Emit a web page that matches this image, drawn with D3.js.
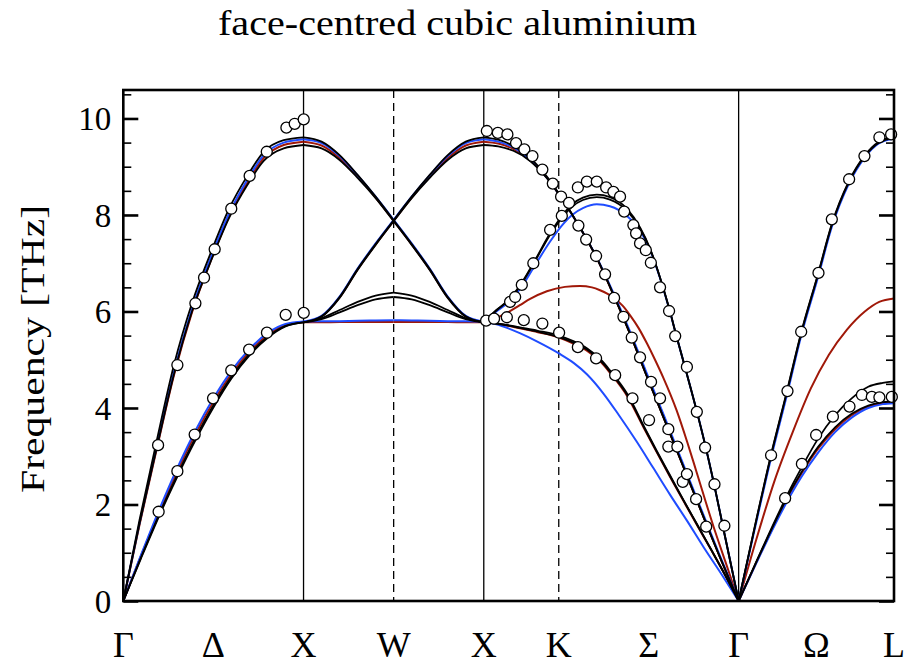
<!DOCTYPE html>
<html>
<head>
<meta charset="utf-8">
<script src="https://cdn.jsdelivr.net/npm/d3@7"></script>
<style>
  body { margin: 0; background: #fff; }
  svg { display: block; }
</style>
</head>
<body>
<svg id="chart" width="907" height="667"></svg>
<script>
// ---- High-symmetry path (cumulative wave-vector distance, units of 2π/a) ----
const pathLabels   = ["Γ", "Δ", "X", "W", "X", "K", "Σ", "Γ", "Ω", "L"];
const pathLabelPos = [0, 0.5, 1, 1.5, 2, 2.416, 2.915, 3.414, 3.845, 4.276];
const solidLines   = [1, 2, 3.414];
const dashedLines  = [1.5, 2.416];
const yMajorTicks  = [0, 2, 4, 6, 8, 10];
const yMinorTicks  = [0.5, 1, 1.5, 2.5, 3, 3.5, 4.5, 5, 5.5, 6.5, 7, 7.5, 8.5, 9, 9.5, 10.5];

// ---- Model A (black) branches: [q, frequency THz] ----
const blackA_GX_L  = [[0,0],[0.09,1.68],[0.18,3.23],[0.281,4.89],[0.381,6.17],[0.494,7.3],[0.587,8.13],[0.688,8.81],[0.779,9.31],[0.89,9.55],[1,9.61]];
const blackA_GX_T  = [[0,0],[0.1,0.92],[0.2,1.8],[0.3,2.62],[0.4,3.38],[0.5,4.06],[0.6,4.65],[0.7,5.12],[0.8,5.47],[0.9,5.7],[1,5.775]];
const blackA_XW_1  = [[1,9.61],[1.1,9.52],[1.2,9.24],[1.3,8.83],[1.4,8.38],[1.5,7.89]];
const blackA_XW_2  = [[1,5.775],[1.1,5.9],[1.2,6.3],[1.3,6.88],[1.4,7.4],[1.5,7.89]];
const blackA_XW_3  = [[1,5.775],[1.1,5.86],[1.2,6.03],[1.3,6.2],[1.4,6.33],[1.5,6.39]];
const blackA_WX_1  = [[1.5,7.89],[1.6,8.38],[1.7,8.83],[1.8,9.24],[1.9,9.52],[2,9.61]];
const blackA_WX_2  = [[1.5,7.89],[1.6,7.4],[1.7,6.88],[1.8,6.3],[1.9,5.9],[2,5.775]];
const blackA_WX_3  = [[1.5,6.39],[1.6,6.33],[1.7,6.2],[1.8,6.03],[1.9,5.86],[2,5.775]];
const blackA_XG_1  = [[2,9.61],[2.08,9.56],[2.164,9.43],[2.257,9.18],[2.349,8.8],[2.44,8.31],[2.532,7.75],[2.624,7.13],[2.717,6.37],[2.81,5.55],[2.9,4.7],[3,3.78],[3.1,2.85],[3.2,1.92],[3.3,1],[3.414,0]];
const blackA_XG_2  = [[2,5.775],[2.07,6.03],[2.146,6.27],[2.211,6.6],[2.275,7],[2.368,7.62],[2.433,7.98],[2.49,8.22],[2.55,8.36],[2.627,8.42],[2.7,8.37],[2.794,8.13],[2.867,7.74],[2.923,7.3],[2.978,6.7],[3.028,6.07],[3.067,5.52],[3.127,4.7],[3.182,3.93],[3.228,3.24],[3.28,2.38],[3.335,1.4],[3.414,0]];
const blackA_XG_3  = [[2,5.775],[2.1,5.74],[2.2,5.67],[2.3,5.6],[2.417,5.5],[2.5,5.38],[2.572,5.24],[2.65,5.0],[2.7,4.78],[2.8,4.27],[2.886,3.64],[2.96,3.11],[3.034,2.6],[3.11,2.08],[3.182,1.6],[3.26,1.08],[3.33,0.6],[3.414,0]];
const blackA_GL_L  = [[3.414,0],[3.504,1.55],[3.593,3.02],[3.684,4.38],[3.76,5.55],[3.856,6.8],[3.93,7.8],[4.026,8.7],[4.111,9.22],[4.194,9.52],[4.276,9.62]];
const blackA_GL_T  = [[3.414,0],[3.514,0.83],[3.614,1.65],[3.714,2.42],[3.764,2.77],[3.856,3.37],[3.949,3.85],[4.041,4.2],[4.133,4.44],[4.214,4.52],[4.276,4.55]];

// ---- Model B (black) branches ----
const blackB_GX_L  = [[0,0],[0.09,1.6],[0.18,3.08],[0.281,4.7],[0.381,6],[0.494,7.12],[0.587,7.94],[0.688,8.62],[0.779,9.12],[0.89,9.38],[1,9.45]];
const blackB_GX_T  = [[0,0],[0.1,0.9],[0.2,1.77],[0.3,2.58],[0.4,3.33],[0.5,4.01],[0.6,4.61],[0.7,5.09],[0.8,5.45],[0.9,5.69],[1,5.775]];
const blackB_XW_1  = [[1,9.45],[1.1,9.38],[1.2,9.14],[1.3,8.77],[1.4,8.35],[1.5,7.87]];
const blackB_XW_2  = [[1,5.775],[1.1,5.89],[1.2,6.28],[1.3,6.86],[1.4,7.38],[1.5,7.87]];
const blackB_XW_3  = [[1,5.775],[1.1,5.84],[1.2,5.98],[1.3,6.13],[1.4,6.25],[1.5,6.3]];
const blackB_WX_1  = [[1.5,7.87],[1.6,8.35],[1.7,8.77],[1.8,9.14],[1.9,9.38],[2,9.45]];
const blackB_WX_2  = [[1.5,7.87],[1.6,7.38],[1.7,6.86],[1.8,6.28],[1.9,5.89],[2,5.775]];
const blackB_WX_3  = [[1.5,6.3],[1.6,6.25],[1.7,6.13],[1.8,5.98],[1.9,5.84],[2,5.775]];
const blackB_XG_1  = [[2,9.45],[2.08,9.42],[2.164,9.33],[2.257,9.12],[2.349,8.77],[2.44,8.3],[2.532,7.75],[2.624,7.13],[2.717,6.37],[2.81,5.55],[2.9,4.7],[3,3.78],[3.1,2.85],[3.2,1.92],[3.3,1],[3.414,0]];
const blackB_XG_2  = [[2,5.775],[2.07,6.02],[2.146,6.26],[2.211,6.58],[2.275,6.98],[2.368,7.59],[2.433,7.94],[2.49,8.17],[2.55,8.31],[2.627,8.37],[2.7,8.32],[2.794,8.09],[2.867,7.72],[2.923,7.29],[2.978,6.7],[3.028,6.07],[3.067,5.52],[3.127,4.7],[3.182,3.93],[3.228,3.24],[3.28,2.38],[3.335,1.4],[3.414,0]];
const blackB_XG_3  = [[2,5.775],[2.1,5.73],[2.2,5.66],[2.3,5.58],[2.417,5.47],[2.5,5.35],[2.572,5.21],[2.65,4.97],[2.7,4.75],[2.8,4.24],[2.886,3.62],[2.96,3.09],[3.034,2.58],[3.11,2.07],[3.182,1.59],[3.26,1.07],[3.33,0.6],[3.414,0]];
const blackB_GL_L  = [[3.414,0],[3.504,1.54],[3.593,3.0],[3.684,4.36],[3.76,5.53],[3.856,6.78],[3.93,7.78],[4.026,8.68],[4.111,9.2],[4.194,9.5],[4.276,9.6]];
const blackB_GL_T  = [[3.414,0],[3.514,0.82],[3.614,1.62],[3.714,2.36],[3.764,2.68],[3.856,3.2],[3.949,3.6],[4.041,3.88],[4.133,4.05],[4.214,4.12],[4.276,4.14]];

// ---- Model C (red) branches ----
const red_GX_L  = [[0,0],[0.09,1.58],[0.18,3.06],[0.281,4.68],[0.381,5.98],[0.494,7.13],[0.587,7.97],[0.688,8.67],[0.779,9.18],[0.89,9.45],[1,9.52]];
const red_GX_T  = [[0,0],[0.1,0.95],[0.2,1.85],[0.3,2.7],[0.4,3.46],[0.5,4.13],[0.6,4.71],[0.7,5.17],[0.8,5.51],[0.9,5.72],[1,5.78]];
const red_XW_1  = [[1,9.52],[1.1,9.44],[1.2,9.18],[1.3,8.8],[1.4,8.36],[1.5,7.88]];
const red_XW_2  = [[1,5.78],[1.1,5.9],[1.2,6.29],[1.3,6.87],[1.4,7.39],[1.5,7.88]];
const red_XW_3  = [[1,5.775],[1.1,5.775],[1.2,5.78],[1.3,5.78],[1.4,5.78],[1.5,5.78]];
const red_WX_1  = [[1.5,7.88],[1.6,8.36],[1.7,8.8],[1.8,9.18],[1.9,9.44],[2,9.52]];
const red_WX_2  = [[1.5,7.88],[1.6,7.39],[1.7,6.87],[1.8,6.29],[1.9,5.9],[2,5.78]];
const red_WX_3  = [[1.5,5.78],[1.6,5.78],[1.7,5.78],[1.8,5.78],[1.9,5.775],[2,5.775]];
const red_XG_1  = [[2,9.52],[2.08,9.48],[2.164,9.37],[2.257,9.14],[2.349,8.78],[2.44,8.3],[2.532,7.75],[2.624,7.13],[2.717,6.37],[2.81,5.55],[2.9,4.7],[3,3.78],[3.1,2.85],[3.2,1.92],[3.3,1],[3.414,0]];
const red_XG_2  = [[2,5.775],[2.06,5.85],[2.128,5.97],[2.2,6.13],[2.257,6.26],[2.35,6.42],[2.45,6.51],[2.534,6.53],[2.6,6.5],[2.645,6.44],[2.719,6.29],[2.77,6.12],[2.812,5.92],[2.86,5.65],[2.905,5.34],[2.95,5],[2.997,4.62],[3.07,3.95],[3.13,3.28],[3.18,2.68],[3.274,1.55],[3.34,0.82],[3.414,0]];
const red_XG_3  = [[2,5.775],[2.1,5.73],[2.2,5.65],[2.3,5.57],[2.417,5.46],[2.5,5.33],[2.572,5.19],[2.65,4.95],[2.7,4.73],[2.8,4.22],[2.886,3.6],[2.96,3.08],[3.034,2.57],[3.11,2.06],[3.182,1.58],[3.26,1.07],[3.33,0.6],[3.414,0]];
const red_GL_L  = [[3.414,0],[3.514,1.3],[3.614,2.5],[3.714,3.5],[3.814,4.4],[3.914,5.1],[4.014,5.62],[4.114,6],[4.194,6.2],[4.276,6.27]];
const red_GL_T  = [[3.414,0],[3.514,0.81],[3.614,1.6],[3.714,2.33],[3.764,2.65],[3.856,3.16],[3.949,3.56],[4.041,3.85],[4.133,4.03],[4.214,4.1],[4.276,4.12]];

// ---- Model D (blue) branches ----
const blue_GX_L  = [[0,0],[0.09,1.62],[0.18,3.12],[0.281,4.75],[0.381,6.05],[0.494,7.2],[0.587,8.03],[0.688,8.73],[0.779,9.24],[0.89,9.5],[1,9.57]];
const blue_GX_T  = [[0,0],[0.1,0.97],[0.2,1.9],[0.3,2.76],[0.4,3.53],[0.5,4.2],[0.6,4.77],[0.7,5.22],[0.8,5.55],[0.9,5.74],[1,5.79]];
const blue_XW_1  = [[1,9.57],[1.1,9.49],[1.2,9.22],[1.3,8.82],[1.4,8.38],[1.5,7.9]];
const blue_XW_2  = [[1,5.79],[1.1,5.91],[1.2,6.31],[1.3,6.89],[1.4,7.41],[1.5,7.9]];
const blue_XW_3  = [[1,5.79],[1.1,5.795],[1.2,5.8],[1.3,5.81],[1.4,5.815],[1.5,5.82]];
const blue_WX_1  = [[1.5,7.9],[1.6,8.38],[1.7,8.82],[1.8,9.22],[1.9,9.49],[2,9.57]];
const blue_WX_2  = [[1.5,7.9],[1.6,7.41],[1.7,6.89],[1.8,6.31],[1.9,5.91],[2,5.79]];
const blue_WX_3  = [[1.5,5.82],[1.6,5.815],[1.7,5.81],[1.8,5.8],[1.9,5.795],[2,5.79]];
const blue_XG_1  = [[2,9.57],[2.08,9.52],[2.164,9.4],[2.257,9.15],[2.349,8.78],[2.44,8.3],[2.532,7.75],[2.624,7.14],[2.717,6.4],[2.81,5.6],[2.9,4.76],[3,3.84],[3.1,2.9],[3.2,1.96],[3.3,1.03],[3.414,0]];
const blue_XG_2  = [[2,5.79],[2.07,6.0],[2.146,6.22],[2.211,6.52],[2.275,6.9],[2.368,7.45],[2.433,7.78],[2.49,8],[2.55,8.14],[2.627,8.22],[2.7,8.18],[2.794,7.98],[2.867,7.68],[2.923,7.27],[2.978,6.69],[3.028,6.06],[3.067,5.52],[3.127,4.7],[3.182,3.93],[3.228,3.24],[3.28,2.38],[3.335,1.4],[3.414,0]];
const blue_XG_3  = [[2,5.79],[2.1,5.7],[2.2,5.55],[2.3,5.37],[2.417,5.13],[2.5,4.93],[2.572,4.7],[2.664,4.3],[2.75,3.85],[2.849,3.3],[2.94,2.76],[3.034,2.2],[3.13,1.65],[3.219,1.12],[3.32,0.55],[3.414,0]];
const blue_GL_L  = [[3.414,0],[3.504,1.5],[3.593,2.95],[3.684,4.3],[3.76,5.48],[3.856,6.73],[3.93,7.74],[4.026,8.65],[4.111,9.18],[4.194,9.49],[4.276,9.58]];
const blue_GL_T  = [[3.414,0],[3.514,0.8],[3.614,1.57],[3.714,2.27],[3.764,2.58],[3.856,3.08],[3.949,3.5],[4.041,3.8],[4.133,4],[4.214,4.08],[4.276,4.1]];

// ---- Measured frequencies (open circles) ----
const measuredQ = [
  0.193, 0.300, 0.400, 0.448, 0.507, 0.599, 0.701, 0.796, 0.905, 0.951, 1.001,
  0.196, 0.300, 0.396, 0.498, 0.599, 0.698, 0.797, 0.901, 1.001,
  2.017, 2.078, 2.131, 2.179, 2.225, 2.270, 2.325, 2.383, 2.429, 2.473, 2.525, 2.568, 2.623, 2.673, 2.723, 2.775, 2.821, 2.867, 2.928, 2.978,
  3.024, 3.024, 3.074, 3.104, 3.127, 3.178, 3.234,
  2.013, 2.057, 2.128, 2.146, 2.174, 2.211, 2.275, 2.368, 2.433, 2.522, 2.572, 2.627, 2.679, 2.719, 2.756, 2.779, 2.830, 2.845, 2.867, 2.899, 2.927, 2.978, 3.028, 3.062, 3.127,
  3.182, 3.228, 3.280, 3.335,
  2.222, 2.325, 2.418, 2.522, 2.623, 2.729, 2.825, 2.917,
  3.594, 3.685, 3.761, 3.857, 3.931, 4.027, 4.112, 4.195, 4.260,
  3.672, 3.765, 3.844, 3.937, 4.029, 4.098, 4.153, 4.195, 4.264
];
const measuredF = [
  3.23, 4.89, 6.17, 6.70, 7.29, 8.13, 8.81, 9.31, 9.81, 9.89, 9.98,
  1.85, 2.69, 3.45, 4.20, 4.78, 5.21, 5.56, 5.93, 5.97,
  9.74, 9.70, 9.67, 9.49, 9.36, 9.22, 8.94, 8.65, 8.38, 8.25, 7.78, 7.49, 7.15, 6.77, 6.28, 5.89, 5.46, 5.05, 4.54, 4.20,
  3.56, 3.20, 3.20, 2.47, 2.63, 2.11, 1.54,
  5.81, 5.85, 5.88, 6.20, 6.30, 6.55, 7.00, 7.69, 7.98, 8.57, 8.69, 8.69, 8.57, 8.48, 8.38, 8.07, 7.79, 7.62, 7.41, 7.27, 7.01, 6.50, 6.01, 5.49, 4.85,
  3.92, 3.18, 2.42, 1.56,
  5.82, 5.75, 5.56, 5.26, 5.03, 4.68, 4.20, 3.75,
  3.02, 4.35, 5.58, 6.80, 7.91, 8.74, 9.22, 9.61, 9.67,
  2.13, 2.84, 3.44, 3.82, 4.03, 4.27, 4.23, 4.22, 4.23
];

const titleText  = "face-centred cubic aluminium";
const yAxisTitle = "Frequency [THz]";

// ---- Layout ----
const svg = d3.select("#chart");
const plot = { left: 123.3, right: 894, top: 90, bottom: 601 };
const serif = "'Liberation Serif', 'Times New Roman', serif";
const colours = { black: "#000000", red: "#a01808", blue: "#1f4cff" };

const x = d3.scaleLinear().domain([0, 4.276]).range([plot.left, plot.right]);
const y = d3.scaleLinear().domain([0, 10.59]).range([plot.bottom, plot.top]);

svg.append("defs").append("clipPath").attr("id", "plot-clip")
  .append("rect")
  .attr("x", plot.left).attr("y", plot.top)
  .attr("width", plot.right - plot.left).attr("height", plot.bottom - plot.top);

// High-symmetry separators
svg.append("g").selectAll("line").data(solidLines).join("line")
  .attr("x1", d => x(d)).attr("x2", d => x(d))
  .attr("y1", plot.top).attr("y2", plot.bottom)
  .attr("stroke", "#000").attr("stroke-width", 1.3);
svg.append("g").selectAll("line").data(dashedLines).join("line")
  .attr("x1", d => x(d)).attr("x2", d => x(d))
  .attr("y1", plot.top).attr("y2", plot.bottom)
  .attr("stroke", "#000").attr("stroke-width", 1.3)
  .attr("stroke-dasharray", "8,5");

// Dispersion curves
const line = d3.line().x(d => x(d[0])).y(d => y(d[1])).curve(d3.curveMonotoneX);
const branchSets = [
  { colour: colours.red,  width: 2.0, branches: [red_GX_L, red_GX_T, red_XW_1, red_XW_2, red_XW_3, red_WX_1, red_WX_2, red_WX_3, red_XG_1, red_XG_2, red_XG_3, red_GL_L, red_GL_T] },
  { colour: colours.blue, width: 2.0, branches: [blue_GX_L, blue_GX_T, blue_XW_1, blue_XW_2, blue_XW_3, blue_WX_1, blue_WX_2, blue_WX_3, blue_XG_1, blue_XG_2, blue_XG_3, blue_GL_L, blue_GL_T] },
  { colour: colours.black, width: 1.8, branches: [blackB_GX_L, blackB_GX_T, blackB_XW_1, blackB_XW_2, blackB_XW_3, blackB_WX_1, blackB_WX_2, blackB_WX_3, blackB_XG_1, blackB_XG_2, blackB_XG_3, blackB_GL_L, blackB_GL_T] },
  { colour: colours.black, width: 1.8, branches: [blackA_GX_L, blackA_GX_T, blackA_XW_1, blackA_XW_2, blackA_XW_3, blackA_WX_1, blackA_WX_2, blackA_WX_3, blackA_XG_1, blackA_XG_2, blackA_XG_3, blackA_GL_L, blackA_GL_T] }
];
const curves = svg.append("g").attr("clip-path", "url(#plot-clip)");
branchSets.forEach(set => {
  curves.append("g").selectAll("path").data(set.branches).join("path")
    .attr("d", line)
    .attr("fill", "none")
    .attr("stroke", set.colour)
    .attr("stroke-width", set.width)
    .attr("stroke-linejoin", "round");
});

// Measured points
const points = d3.zip(measuredQ, measuredF);
svg.append("g").selectAll("circle").data(points).join("circle")
  .attr("cx", d => x(d[0])).attr("cy", d => y(d[1]))
  .attr("r", 5.5)
  .attr("fill", "#fff").attr("stroke", "#000").attr("stroke-width", 1.3);

// Frame
svg.append("rect")
  .attr("x", plot.left).attr("y", plot.top)
  .attr("width", plot.right - plot.left).attr("height", plot.bottom - plot.top)
  .attr("fill", "none").attr("stroke", "#000").attr("stroke-width", 2.6);

// Y axes (inward ticks on both sides)
function styleAxis(g) {
  g.select(".domain").remove();
  g.selectAll(".tick line").attr("stroke", "#000");
}
const leftMajor = svg.append("g").attr("transform", `translate(${plot.left},0)`)
  .call(d3.axisLeft(y).tickValues(yMajorTicks).tickSize(-15).tickPadding(12).tickFormat(d3.format("d")));
styleAxis(leftMajor);
leftMajor.selectAll(".tick line").attr("stroke-width", 2.6);
leftMajor.selectAll(".tick text")
  .attr("font-family", serif).attr("font-size", 33).attr("fill", "#000").attr("dy", "0.34em");

const leftMinor = svg.append("g").attr("transform", `translate(${plot.left},0)`)
  .call(d3.axisLeft(y).tickValues(yMinorTicks).tickSize(-8).tickFormat(""));
styleAxis(leftMinor);
leftMinor.selectAll(".tick line").attr("stroke-width", 1.6);

const rightMajor = svg.append("g").attr("transform", `translate(${plot.right},0)`)
  .call(d3.axisRight(y).tickValues(yMajorTicks).tickSize(-15).tickFormat(""));
styleAxis(rightMajor);
rightMajor.selectAll(".tick line").attr("stroke-width", 2.6);

const rightMinor = svg.append("g").attr("transform", `translate(${plot.right},0)`)
  .call(d3.axisRight(y).tickValues(yMinorTicks).tickSize(-8).tickFormat(""));
styleAxis(rightMinor);
rightMinor.selectAll(".tick line").attr("stroke-width", 1.6);

// Path labels under the frame
svg.append("g").selectAll("text").data(d3.zip(pathLabels, pathLabelPos)).join("text")
  .attr("x", d => x(d[1])).attr("y", 657)
  .attr("text-anchor", "middle")
  .attr("font-family", serif).attr("font-size", 36).attr("fill", "#000")
  .text(d => d[0]);

// Axis title
svg.append("text")
  .attr("transform", "translate(44,349) rotate(-90)")
  .attr("text-anchor", "middle")
  .attr("font-family", serif).attr("font-size", 34).attr("fill", "#000")
  .attr("textLength", 288).attr("lengthAdjust", "spacingAndGlyphs")
  .text(yAxisTitle);

// Chart title
svg.append("text")
  .attr("x", 457.5).attr("y", 35)
  .attr("text-anchor", "middle")
  .attr("font-family", serif).attr("font-size", 35).attr("fill", "#000")
  .attr("textLength", 479).attr("lengthAdjust", "spacingAndGlyphs")
  .text(titleText);
</script>
</body>
</html>
